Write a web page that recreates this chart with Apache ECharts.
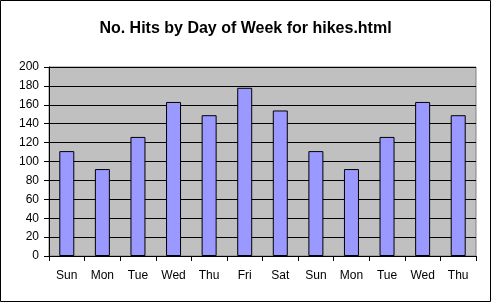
<!DOCTYPE html>
<html><head><meta charset="utf-8">
<script src="https://cdn.jsdelivr.net/npm/echarts@6/dist/echarts.min.js"></script>
<style>html,body{margin:0;padding:0;background:#fff}#c{width:491px;height:302px;box-sizing:border-box;}</style>
</head><body><div id="c"></div>
<script>
const titleText = "No. Hits by Day of Week for hikes.html";
const categories = ["Sun","Mon","Tue","Wed","Thu","Fri","Sat","Sun","Mon","Tue","Wed","Thu"];
const hits = [111, 92, 126, 163, 149, 178, 154, 111, 92, 126, 163, 149];
const yTicks = {min: 0, max: 200, interval: 20};

const chart = echarts.init(document.getElementById('c'), null, {renderer: 'canvas'});
const font = '"Liberation Sans", Arial, sans-serif';
chart.setOption({
  animation: false,
  backgroundColor: '#fff',
  graphic: [{type: 'rect', shape: {x: 0.5, y: 0.5, width: 490, height: 301}, style: {fill: 'none', stroke: '#000', lineWidth: 1}, silent: true}],
  title: {text: titleText, left: 'center', top: 16,
    textStyle: {fontFamily: font, fontSize: 16, fontWeight: 'bold', color: '#000'}},
  grid: {left: 49, right: 15, top: 67, bottom: 46, show: true, backgroundColor: '#c0c0c0', borderColor: '#808080', borderWidth: 1},
  xAxis: {type: 'category', data: categories,
    axisLine: {lineStyle: {color: '#000', width: 1}},
    axisTick: {show: true, alignWithLabel: false, length: 5, lineStyle: {color: '#000'}},
    axisLabel: {fontFamily: font, fontSize: 12, color: '#000', margin: 14, interval: 0}},
  yAxis: {type: 'value', min: yTicks.min, max: yTicks.max, interval: yTicks.interval,
    axisLine: {show: true, lineStyle: {color: '#000', width: 1}},
    axisTick: {show: true, length: 5, lineStyle: {color: '#000'}},
    axisLabel: {fontFamily: font, fontSize: 12, color: '#000', margin: 10},
    splitLine: {show: true, lineStyle: {color: '#000', width: 1}}},
  series: [{type: 'bar', data: hits, barWidth: 15,
    itemStyle: {color: '#9999ff', borderColor: '#000', borderWidth: 1}}]
});
</script></body></html>
